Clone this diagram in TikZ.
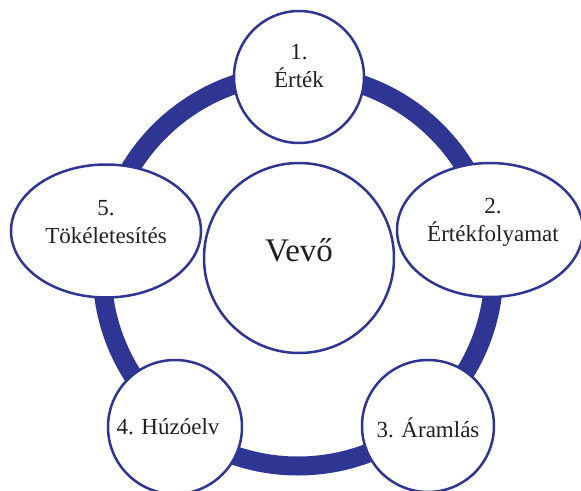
\documentclass[tikz,border=0pt]{standalone}
\usepackage{fontspec}
\setmainfont{Liberation Serif}
\usetikzlibrary{shapes.geometric}
\definecolor{ringblue}{HTML}{2E3592}
\definecolor{txt}{HTML}{231F20}
\begin{document}
\begin{tikzpicture}[x=1pt,y=-1pt,
  bubble/.style={draw=ringblue, line width=2.5pt, fill=white, ellipse, inner sep=0pt, outer sep=0pt},
  lbl/.style={text=txt, font=\fontsize{23}{28}\selectfont, align=center, inner sep=0pt},
  bigtxt/.style={text=txt, font=\fontsize{33}{38}\selectfont, inner sep=0pt},
  ringline/.style={draw=ringblue, line width=19pt}]
\useasboundingbox (0,0) rectangle (581,490);
\coordinate (rc) at (298,270);
\draw[ringline] (rc) circle [radius=196];
\node[bubble, minimum width=130, minimum height=132] (n1) at (299,77) {};
\node[bubble, minimum width=186, minimum height=134] (n2) at (490,230) {};
\node[bubble, minimum width=132, minimum height=132] (n3) at (428,426) {};
\node[bubble, minimum width=134, minimum height=134] (n4) at (175,427) {};
\node[bubble, minimum width=190, minimum height=133] (n5) at (106,231) {};
\node[bubble, minimum width=190, minimum height=190] (nc) at (299,258) {};
\node[lbl] (t1) at (299,66) {1.\\Érték};
\node[lbl] (t2) at (493,222) {2.\\Értékfolyamat};
\node[lbl] (t3) at (428,428) {3. Áramlás};
\node[lbl] (t4) at (168,427) {4. Húzóelv};
\node[lbl] (t5) at (106,222) {5.\\Tökéletesítés};
\node[bigtxt] (tc) at (299,250) {Vevő};
\end{tikzpicture}
\end{document}
